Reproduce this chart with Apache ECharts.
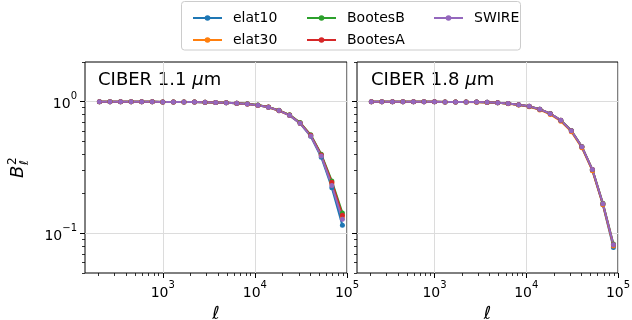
<!DOCTYPE html>
<html><head><meta charset="utf-8">
<script src="https://cdn.jsdelivr.net/npm/echarts@6/dist/echarts.min.js"></script>
<style>html,body{margin:0;padding:0;background:#fff}#c{width:632px;height:320px}</style>
</head><body><div id="c"></div>
<script>
// multipole centres
const ELL = [205,267,348,453,590,768,1000,1303,1697,2210,2877,3747,4881,6356,8277,10778,14036,18279,23803,30996,40365,52565,68451,89140];
const SERIES_NAMES = ['elat10','elat30','BootesB','BootesA','SWIRE'];
const COLORS = ['#1f77b4','#ff7f0e','#2ca02c','#d62728','#9467bd'];
const PANEL_TITLES = ['CIBER 1.1 ', 'CIBER 1.8 '];
const X_MAJOR = [1000, 10000, 100000];
const X_MINOR = [200,300,400,500,600,700,800,900,2000,3000,4000,5000,6000,7000,8000,9000,20000,30000,40000,50000,60000,70000,80000,90000];
const Y_MAJOR = [0.1, 1];
const Y_MINOR = [0.05,0.06,0.07,0.08,0.09,0.2,0.3,0.4,0.5,0.6,0.7,0.8,0.9,2];

// CIBER 1.1 um beam transfer functions
const B11_elat10  = [1.000,1.000,0.999,0.999,0.998,0.997,0.996,0.995,0.994,0.992,0.989,0.985,0.979,0.972,0.960,0.939,0.907,0.854,0.786,0.683,0.545,0.378,0.222,0.115];
const B11_elat30  = [1.000,1.000,0.999,0.999,0.998,0.997,0.996,0.995,0.994,0.992,0.989,0.985,0.979,0.971,0.959,0.938,0.906,0.853,0.787,0.686,0.552,0.390,0.238,0.133];
const B11_BootesB = [1.000,1.000,0.999,0.999,0.998,0.997,0.996,0.995,0.994,0.992,0.989,0.985,0.980,0.973,0.962,0.942,0.910,0.859,0.794,0.693,0.560,0.398,0.250,0.143];
const B11_BootesA = [1.000,1.000,0.999,0.999,0.998,0.997,0.996,0.995,0.994,0.992,0.989,0.985,0.979,0.972,0.961,0.941,0.909,0.857,0.791,0.689,0.555,0.393,0.244,0.137];
const B11_SWIRE   = [1.000,1.000,0.999,0.999,0.998,0.997,0.996,0.995,0.994,0.992,0.989,0.985,0.979,0.972,0.960,0.940,0.908,0.855,0.787,0.684,0.548,0.386,0.231,0.128];

// CIBER 1.8 um beam transfer functions
const B18_elat10  = [1.000,1.000,0.999,0.999,0.998,0.998,0.997,0.996,0.995,0.994,0.992,0.988,0.982,0.967,0.948,0.920,0.874,0.810,0.720,0.600,0.452,0.302,0.165,0.078];
const B18_elat30  = [1.000,1.000,0.999,0.999,0.998,0.998,0.997,0.996,0.995,0.994,0.991,0.987,0.980,0.964,0.944,0.915,0.866,0.800,0.710,0.592,0.447,0.299,0.165,0.080];
const B18_BootesB = [1.000,1.000,0.999,0.999,0.998,0.998,0.997,0.996,0.995,0.994,0.992,0.988,0.982,0.967,0.949,0.922,0.876,0.812,0.722,0.603,0.456,0.306,0.169,0.083];
const B18_BootesA = [1.000,1.000,0.999,0.999,0.998,0.998,0.997,0.996,0.995,0.994,0.992,0.988,0.982,0.967,0.949,0.921,0.875,0.811,0.721,0.602,0.455,0.305,0.168,0.082];
const B18_SWIRE   = [1.000,1.000,0.999,0.999,0.998,0.998,0.997,0.996,0.995,0.994,0.992,0.988,0.982,0.967,0.949,0.921,0.875,0.811,0.721,0.602,0.455,0.305,0.168,0.082];

const PANELS = [
  [B11_elat10, B11_elat30, B11_BootesB, B11_BootesA, B11_SWIRE],
  [B18_elat10, B18_elat30, B18_BootesB, B18_BootesA, B18_SWIRE]
];

const FONT = 'DejaVu Sans';
const GRID_LINE = '#dcdcdc';
const richSup = {
  b: {fontSize: 14, fontFamily: FONT, color: '#000', verticalAlign: 'bottom', lineHeight: 20},
  s: {fontSize: 10, fontFamily: FONT, color: '#000', verticalAlign: 'top', lineHeight: 20}
};
function supFmt(v) {
  const e = Math.round(Math.log10(v));
  return '{b|10}{s|' + (e < 0 ? '\u2212' + (-e) : e) + '}';
}

const grids = [
  {left: 85, top: 62, width: 262, height: 211},
  {left: 357, top: 62, width: 261, height: 211}
].map(g => Object.assign(g, {show: true, borderColor: '#000', borderWidth: 1, backgroundColor: 'transparent',
  containLabel: false, outerBoundsMode: 'none'}));

const xAxes = [], yAxes = [];
[0, 1].forEach(gi => {
  xAxes.push({
    type: 'log', gridIndex: gi, position: 'bottom', min: 143, max: 100000,
    name: 'ℓ', nameLocation: 'middle', nameGap: 30,
    nameTextStyle: {fontSize: 18, fontFamily: FONT, fontStyle: 'italic', color: '#000'},
    axisLine: {show: false},
    axisTick: {show: true, length: 5, customValues: X_MAJOR, lineStyle: {color: '#000', width: 1}},
    axisLabel: {show: true, customValues: X_MAJOR, formatter: supFmt, margin: 7, rich: richSup},
    splitLine: {show: true, lineStyle: {color: GRID_LINE, width: 1}}
  });
  xAxes.push({
    type: 'log', gridIndex: gi, position: 'bottom', min: 143, max: 100000,
    axisLine: {show: false},
    axisTick: {show: true, length: 3, customValues: X_MINOR, lineStyle: {color: '#000', width: 0.8}},
    axisLabel: {show: false},
    splitLine: {show: false}
  });
  yAxes.push({
    type: 'log', gridIndex: gi, position: 'left', min: 0.05, max: 2,
    axisLine: {show: false},
    axisTick: {show: true, length: 5, customValues: Y_MAJOR, lineStyle: {color: '#000', width: 1}},
    axisLabel: {show: gi === 0, customValues: Y_MAJOR, formatter: supFmt, margin: 8, rich: richSup},
    splitLine: {show: true, lineStyle: {color: GRID_LINE, width: 1}}
  });
  yAxes.push({
    type: 'log', gridIndex: gi, position: 'left', min: 0.05, max: 2,
    axisLine: {show: false},
    axisTick: {show: true, length: 3, customValues: Y_MINOR, lineStyle: {color: '#000', width: 0.8}},
    axisLabel: {show: false},
    splitLine: {show: false}
  });
});

const series = [];
PANELS.forEach((arrs, gi) => {
  arrs.forEach((vals, si) => {
    series.push({
      type: 'line', name: SERIES_NAMES[si],
      xAxisIndex: gi * 2, yAxisIndex: gi * 2,
      data: ELL.map((l, i) => [l, vals[i]]),
      symbol: 'circle', symbolSize: 5, showSymbol: true,
      lineStyle: {width: 2, color: COLORS[si]},
      itemStyle: {color: COLORS[si]},
      emphasis: {disabled: true}
    });
  });
});

const legendCommon = {
  orient: 'vertical', itemWidth: 29, itemHeight: 7, itemGap: 6, selectedMode: false,
  textStyle: {fontSize: 14, fontFamily: FONT, color: '#000', lineHeight: 16, padding: [0, 0, 0, 6]}
};
const legends = [
  Object.assign({data: ['elat10', 'elat30'], left: 187, top: 5}, legendCommon),
  Object.assign({data: ['BootesB', 'BootesA'], left: 301, top: 5}, legendCommon),
  Object.assign({data: ['SWIRE'], left: 428, top: 5}, legendCommon)
];

const graphic = [
  {type: 'rect', z: 0, shape: {x: 181.5, y: 1.5, width: 339, height: 48.5, r: 3}, style: {fill: '#fff', stroke: '#cccccc', lineWidth: 1}},
  {type: 'text', x: 98, y: 71, style: {text: PANEL_TITLES[0] + '{m|μ}m', font: '18px ' + FONT, fill: '#000',
    rich: {m: {fontSize: 18, fontFamily: FONT, fontStyle: 'italic', fill: '#000'}}}},
  {type: 'text', x: 371, y: 71, style: {text: PANEL_TITLES[1] + '{m|μ}m', font: '18px ' + FONT, fill: '#000',
    rich: {m: {fontSize: 18, fontFamily: FONT, fontStyle: 'italic', fill: '#000'}}}},
  {type: 'group', x: 18.5, y: 178, rotation: Math.PI / 2, children: [
    {type: 'text', x: 0, y: 0, style: {text: 'B', font: 'italic 18px ' + FONT, fill: '#000', align: 'left', verticalAlign: 'middle'}},
    {type: 'text', x: 13, y: -6, style: {text: '2', font: '12px ' + FONT, fill: '#000', align: 'left', verticalAlign: 'middle'}},
    {type: 'text', x: 13, y: 6, style: {text: 'ℓ', font: 'italic 12px ' + FONT, fill: '#000', align: 'left', verticalAlign: 'middle'}}
  ]}
];

const chart = echarts.init(document.getElementById('c'), null, {renderer: 'canvas'});
chart.setOption({
  animation: false,
  backgroundColor: '#fff',
  textStyle: {fontFamily: FONT},
  grid: grids, xAxis: xAxes, yAxis: yAxes,
  legend: legends, series: series, graphic: graphic
});
</script></body></html>
